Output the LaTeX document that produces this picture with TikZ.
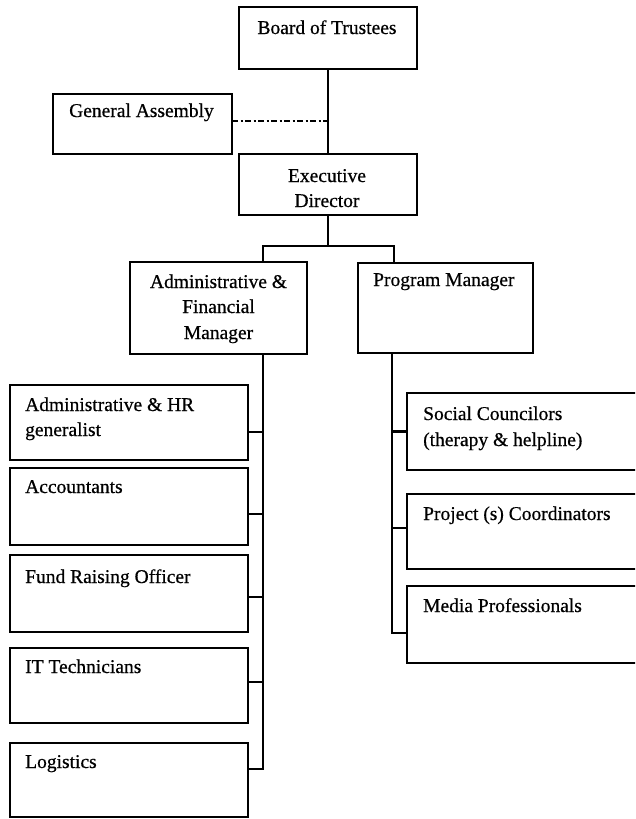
\documentclass[tikz,border=0pt]{standalone}
\usepackage{fontspec}
\setmainfont[FakeBold=0.6]{Liberation Serif}
\begin{document}
\begin{tikzpicture}[x=1pt,y=-1pt,
  box/.style={draw, line width=2.6pt, rectangle, anchor=north west, inner sep=0pt, outer sep=0pt},
  lbl/.style={inner sep=0pt, font=\fontsize{19.5}{25}\selectfont},
  link/.style={line width=2.6pt},
  advisory/.style={line width=2.6pt, dash pattern=on 6pt off 2.5pt on 2pt off 2.5pt}]
\useasboundingbox (0,0) rectangle (635,819);
\clip (0,0) rectangle (635,819);
\fill[white] (0,0) rectangle (635,819);

% top of the chart
\node[box, minimum width=178pt, minimum height=62pt] (bot) at (239,7) {};
\node[box, minimum width=179pt, minimum height=60pt] (ga) at (53,94) {};
\node[box, minimum width=178pt, minimum height=61pt] (exec) at (239,154) {};
\node[box, minimum width=177pt, minimum height=92pt] (afm) at (130,262) {};
\node[box, minimum width=175pt, minimum height=90pt] (pm) at (358,263) {};

% administrative staff
\node[box, minimum width=238pt, minimum height=75pt] (l1) at (10,385) {};
\node[box, minimum width=238pt, minimum height=77pt] (l2) at (10,468) {};
\node[box, minimum width=238pt, minimum height=77pt] (l3) at (10,555) {};
\node[box, minimum width=238pt, minimum height=75pt] (l4) at (10,648) {};
\node[box, minimum width=238pt, minimum height=74pt] (l5) at (10,743) {};

% program staff
\node[box, minimum width=253pt, minimum height=77pt] (r1) at (407,393) {};
\node[box, minimum width=253pt, minimum height=75pt] (r2) at (407,494) {};
\node[box, minimum width=253pt, minimum height=77pt] (r3) at (407,586) {};

% labels
\node[lbl, anchor=base] (bot-t) at (327,34) {Board of Trustees};
\node[lbl, anchor=base west] (ga-t) at (69,117) {General Assembly};
\node[lbl, anchor=base] (exec-t1) at (327,182) {Executive};
\node[lbl, anchor=base] (exec-t2) at (327,207) {Director};
\node[lbl, anchor=base] (afm-t1) at (218.5,288) {Administrative \&};
\node[lbl, anchor=base] (afm-t2) at (218.5,313) {Financial};
\node[lbl, anchor=base] (afm-t3) at (218.5,339) {Manager};
\node[lbl, anchor=base west] (pm-t) at (373,286) {Program Manager};

\node[lbl, anchor=base west] (l1-t1) at (25,411) {Administrative \& HR};
\node[lbl, anchor=base west] (l1-t2) at (25,436) {generalist};
\node[lbl, anchor=base west] (l2-t) at (25,493) {Accountants};
\node[lbl, anchor=base west] (l3-t) at (25,583) {Fund Raising Officer};
\node[lbl, anchor=base west] (l4-t) at (25,673) {IT Technicians};
\node[lbl, anchor=base west] (l5-t) at (25,768) {Logistics};

\node[lbl, anchor=base west] (r1-t1) at (423,420) {Social Councilors};
\node[lbl, anchor=base west] (r1-t2) at (423,446) {(therapy \& helpline)};
\node[lbl, anchor=base west] (r2-t) at (423,520) {Project (s) Coordinators};
\node[lbl, anchor=base west] (r3-t) at (423,612) {Media Professionals};

% reporting lines
\coordinate (split) at (327,246);
\draw[link] (bot.south) -- (exec.north);
\draw[advisory] ([yshift=3pt]ga.east) -- ([yshift=3pt]ga.east -| bot.south);
\draw[link] (exec.south) -- (exec.south |- split);
\draw[link] ([xshift=44.5pt]afm.north) |- (split) -| ([xshift=-51.5pt]pm.north);

\coordinate (lbus) at ([xshift=44.5pt]afm.south);
\draw[link] (lbus) |- ([yshift=11pt]l5.east);
\draw[link] ([yshift=-9.5pt]l1.east) -- ++(15,0);
\draw[link] ([yshift=-7.5pt]l2.east) -- ++(15,0);
\draw[link] ([yshift=-3.5pt]l3.east) -- ++(15,0);
\draw[link] ([yshift=3.5pt]l4.east) -- ++(15,0);

\coordinate (rbus) at ([xshift=-53.5pt]pm.south);
\draw[link] (rbus) |- ([yshift=-8.5pt]r3.west);
\draw[link] (r1.west) -- ++(-15,0);
\draw[link] ([yshift=3.5pt]r2.west) -- ++(-15,0);
\end{tikzpicture}
\end{document}
